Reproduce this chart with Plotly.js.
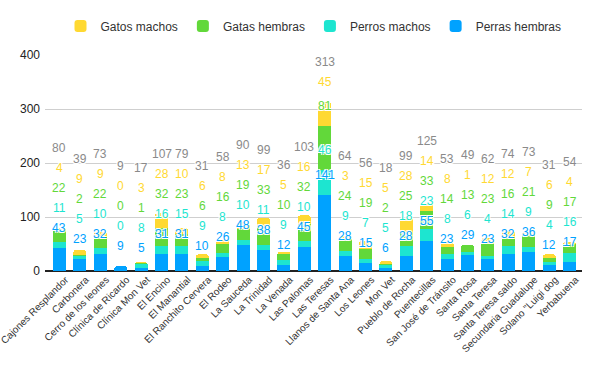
<!DOCTYPE html>
<html>
<head>
<meta charset="utf-8">
<script src="https://cdn.plot.ly/plotly-3.0.1.min.js"></script>
<style>html,body{margin:0;padding:0;background:#fff;}#chart{width:600px;height:371px;}</style>
</head>
<body>
<div id="chart"></div>
<script>
const categories = ["Cajones Resplandor","Carbonera","Cerro de los leones","Clínica de Ricardo","Clínica Mon Vet","El Encino","El Manantial","El Ranchito Cervera","El Rodeo","La Sauceda","La Trinidad","La Venada","Las Palomas","Las Teresas","Llanos de Santa Ana","Los Leones","Mon Vet","Pueblo de Rocha","Puentecillas","San José de Tránsito","Santa Rosa","Santa Teresa","Santa Teresa saldo","Secundaria Guadalupe","Solano \"Luigi dog","Yerbabuena"];
const perrasHembras = [43,23,32,9,5,31,31,10,26,48,38,12,45,141,28,15,6,28,55,23,29,23,32,36,12,17];
const perrosMachos  = [11,5,10,0,8,16,15,9,8,10,11,9,10,46,9,7,5,18,23,8,6,4,14,9,4,16];
const gatasHembras  = [22,2,22,0,1,32,23,6,16,19,33,10,32,81,24,19,2,25,33,14,13,23,16,21,9,17];
const gatosMachos   = [4,9,9,0,3,28,10,6,8,13,17,5,16,45,3,15,5,28,14,8,1,12,12,7,6,4];
const yTicks = [0,100,200,300,400];

const series = [
  {name:"Perras hembras", values:perrasHembras, color:"#00A2FF"},
  {name:"Perros machos",  values:perrosMachos,  color:"#1DE5D0"},
  {name:"Gatas hembras",  values:gatasHembras,  color:"#62D83A"},
  {name:"Gatos machos",   values:gatosMachos,   color:"#FFD932"}
];

const traces = series.map(s => ({
  type:"bar", name:s.name, x:categories, y:s.values,
  marker:{color:s.color}, hoverinfo:"none"
}));

const plotH = 216, yMax = 400;
const gap = 20 * yMax / plotH;
const halo = "1px 1px 0 #fff, -1px -1px 0 #fff, 1px -1px 0 #fff, -1px 1px 0 #fff";
const annotations = [];
categories.forEach((c, i) => {
  let cum = 0, prev = -Infinity;
  series.forEach(s => {
    cum += s.values[i];
    const y = Math.max(cum + gap, prev + gap);
    prev = y;
    annotations.push({x:c, y:y, text:String(s.values[i]), showarrow:false, xref:"x", yref:"y",
      yanchor:"middle", font:{family:"Liberation Sans, Arial, sans-serif", size:12, color:s.color, shadow:halo}});
  });
  annotations.push({x:c, y:prev + gap, text:String(cum), showarrow:false, xref:"x", yref:"y",
    yanchor:"middle", font:{family:"Liberation Sans, Arial, sans-serif", size:12, color:"#8a8a8a", shadow:halo}});
});

const layout = {
  width:600, height:371,
  margin:{l:45, r:18, t:55, b:100},
  paper_bgcolor:"#fff", plot_bgcolor:"#fff",
  barmode:"stack", bargap:0.36, barcornerradius:3,
  font:{family:"Liberation Sans, Arial, sans-serif", color:"#222"},
  showlegend:true,
  legend:{orientation:"h", x:0.5, xanchor:"center", y:1.134, yanchor:"middle",
    traceorder:"reversed", font:{size:12, color:"#333"}, itemclick:false},
  xaxis:{type:"category", range:[-0.71, 25.61], tickangle:-45, automargin:false,
    tickfont:{size:10, color:"#333"}, showline:false, showgrid:false, ticks:"",
    ticklabelshift:6},
  yaxis:{range:[0, yMax], tickvals:yTicks, ticktext:yTicks.map(String), automargin:false,
    gridcolor:"#cfcfcf", gridwidth:1, zeroline:true, zerolinecolor:"#222", zerolinewidth:1.3,
    tickfont:{size:12, color:"#222"}, ticks:"", ticklabelstandoff:4},
  annotations:annotations
};
Plotly.newPlot("chart", traces, layout, {staticPlot:true, displayModeBar:false});
</script>
</body>
</html>
